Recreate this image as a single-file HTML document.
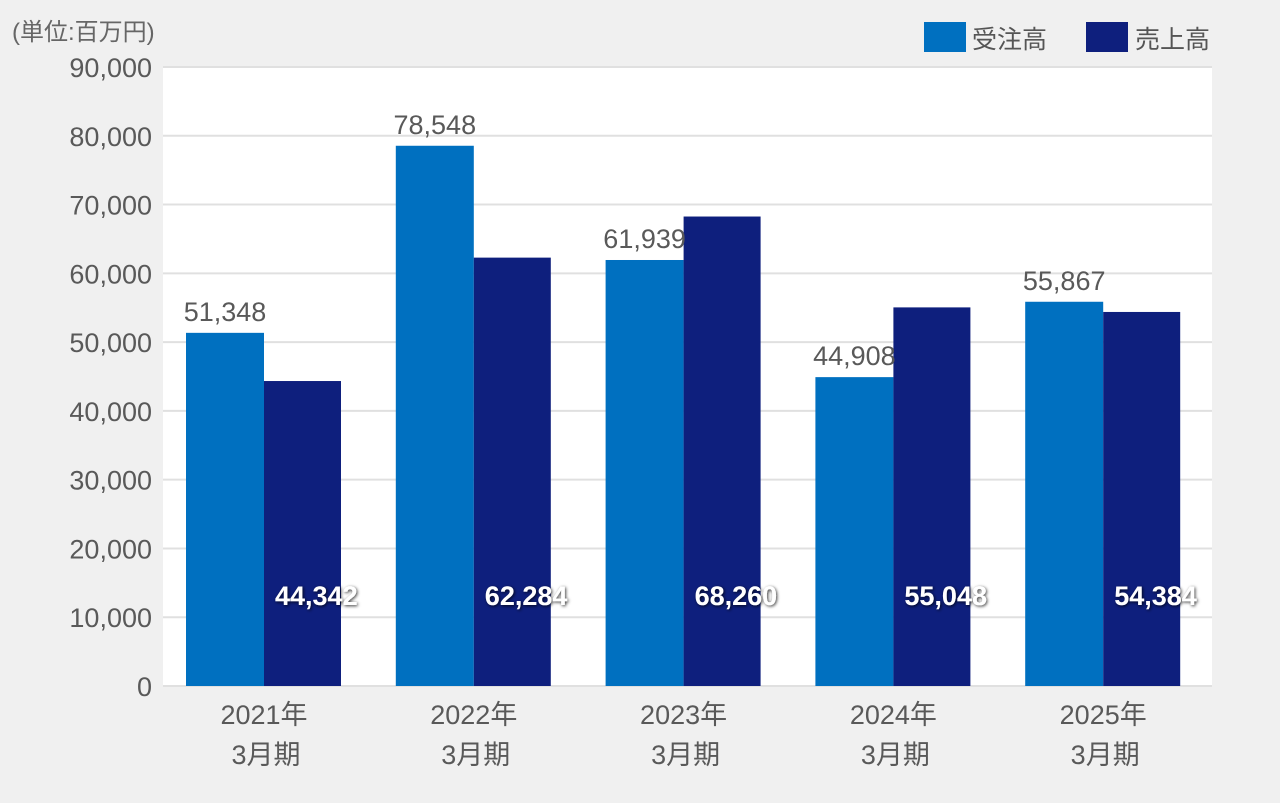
<!DOCTYPE html>
<html><head><meta charset="utf-8"><style>
body{margin:0;background:#f0f0f0;}
svg{display:block;font-family:"Liberation Sans","Noto Sans CJK JP",sans-serif;}
</style></head><body>
<svg width="1280" height="803">
<text x="12" y="40" font-size="24" fill="#666">(単位:百万円)</text>
<rect x="924" y="22" width="42" height="30" fill="#0070c0"/>
<text x="972" y="48" font-size="25" fill="#555">受注高</text>
<rect x="1086" y="22" width="42" height="30" fill="#0e1f7d"/>
<text x="1135" y="48" font-size="25" fill="#555">売上高</text>
<rect x="163" y="67" width="1049" height="619" fill="#fff"/>
<g id="grid"></g><g id="bars"></g><g id="labels"></g>
<defs><filter id="sh" x="-20%" y="-40%" width="140%" height="180%"><feDropShadow dx="1" dy="1" stdDeviation="1.5" flood-color="#000" flood-opacity="0.8"/></filter></defs>
</svg>
<script>
const categories=["2021年","2022年","2023年","2024年","2025年"];
const orders=[51348,78548,61939,44908,55867];
const sales=[44342,62284,68260,55048,54384];
const ticks=[0,10000,20000,30000,40000,50000,60000,70000,80000,90000];
const NS="http://www.w3.org/2000/svg";
const x0=163,pw=1049,y0=686,y1=67,ymax=90000;
const y=v=>y0-(v/ymax)*(y0-y1);
const gx=i=>x0+i*pw/categories.length;
const fmt=v=>v.toLocaleString('en-US');
function mk(t,a,p){const e=document.createElementNS(NS,t);for(const k in a)e.setAttribute(k,a[k]);p.appendChild(e);return e;}
const grid=document.getElementById('grid'),bars=document.getElementById('bars'),labels=document.getElementById('labels');
ticks.forEach(t=>{
 const l=mk('line',{x1:x0,x2:x0+pw,y1:y(t),y2:y(t),stroke:'#e0e0e0','stroke-width':2},grid);
 
 
 const tx=mk('text',{x:152,y:y(t)+10,'font-size':27,fill:'#595959','text-anchor':'end'},grid);
 tx.textContent=fmt(t);
 
 
});
categories.forEach((c,i)=>{
 const bx=gx(i)+23,bw=78;
 const b1=mk('rect',{x:bx,y:y(orders[i]),width:bw,height:y0-y(orders[i]),fill:'#0070c0'},bars);
 
 
 const b2=mk('rect',{x:bx+bw,y:y(sales[i]),width:bw-1,height:y0-y(sales[i]),fill:'#0e1f7d'},bars);
 
 
 const t1=mk('text',{x:bx+bw/2,y:y(orders[i])-12,'font-size':27,fill:'#595959','text-anchor':'middle'},labels);
 t1.textContent=fmt(orders[i]);
 
 
 const t2=mk('text',{x:bx+bw+11,y:605,'font-size':27,'font-weight':'bold',fill:'#fff',filter:'url(#sh)'},labels);
 t2.textContent=fmt(sales[i]);
 
 
 const c1=mk('text',{x:bx+bw,y:724,'font-size':27,fill:'#595959','text-anchor':'middle'},labels);
 c1.textContent=c;
 
 
 const c2=mk('text',{x:bx+bw+2,y:764,'font-size':27,fill:'#595959','text-anchor':'middle'},labels);
 c2.textContent="3月期";
 
 
});
</script>
</body></html>
